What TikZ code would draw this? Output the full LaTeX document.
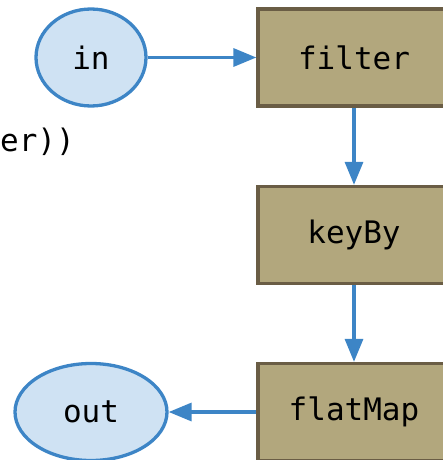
\documentclass[tikz,border=0pt]{standalone}
\usepackage{fontspec}
\setmonofont{DejaVu Sans Mono}
\usetikzlibrary{shapes.geometric,arrows.meta}
\definecolor{flowblue}{HTML}{3D85C6}
\definecolor{portfill}{HTML}{CFE2F3}
\definecolor{opfill}{HTML}{B2A77D}
\definecolor{opedge}{HTML}{6A5D45}
\tikzset{
  x=1pt, y=1pt,
  every node/.style={font=\ttfamily\fontsize{31}{37}\selectfont},
  port/.style={ellipse, draw=flowblue, fill=portfill, line width=3.3pt,
    minimum width=110pt, minimum height=97pt, inner sep=0pt},
  opbox/.style={rectangle, draw=opedge, fill=opfill, line width=3.3pt,
    minimum width=192pt, minimum height=97pt, inner sep=0pt},
  flow/.style={draw=flowblue, line width=3.3pt,
    -{Triangle[length=23pt,width=18pt]}}
}
\begin{document}
\begin{tikzpicture}
\useasboundingbox (0,0) rectangle (443,-460);
\node[port] (in) at (91,-57.5) {in};
\node[opbox] (filter) at (354,-57.5) {filter};
\node[opbox] (keyby) at (354,-235) {keyBy};
\node[opbox] (flatmap) at (354,-412) {flatMap};
\node[port, minimum width=152pt] (out) at (91,-412) {out};
\node[anchor=base east, inner sep=0pt] (tail) at (75,-151) {er))};
\draw[flow] (in) -- (filter);
\draw[flow] (filter) -- (keyby);
\draw[flow] (keyby) -- (flatmap);
\draw[flow] (flatmap) -- (out);
\end{tikzpicture}
\end{document}
